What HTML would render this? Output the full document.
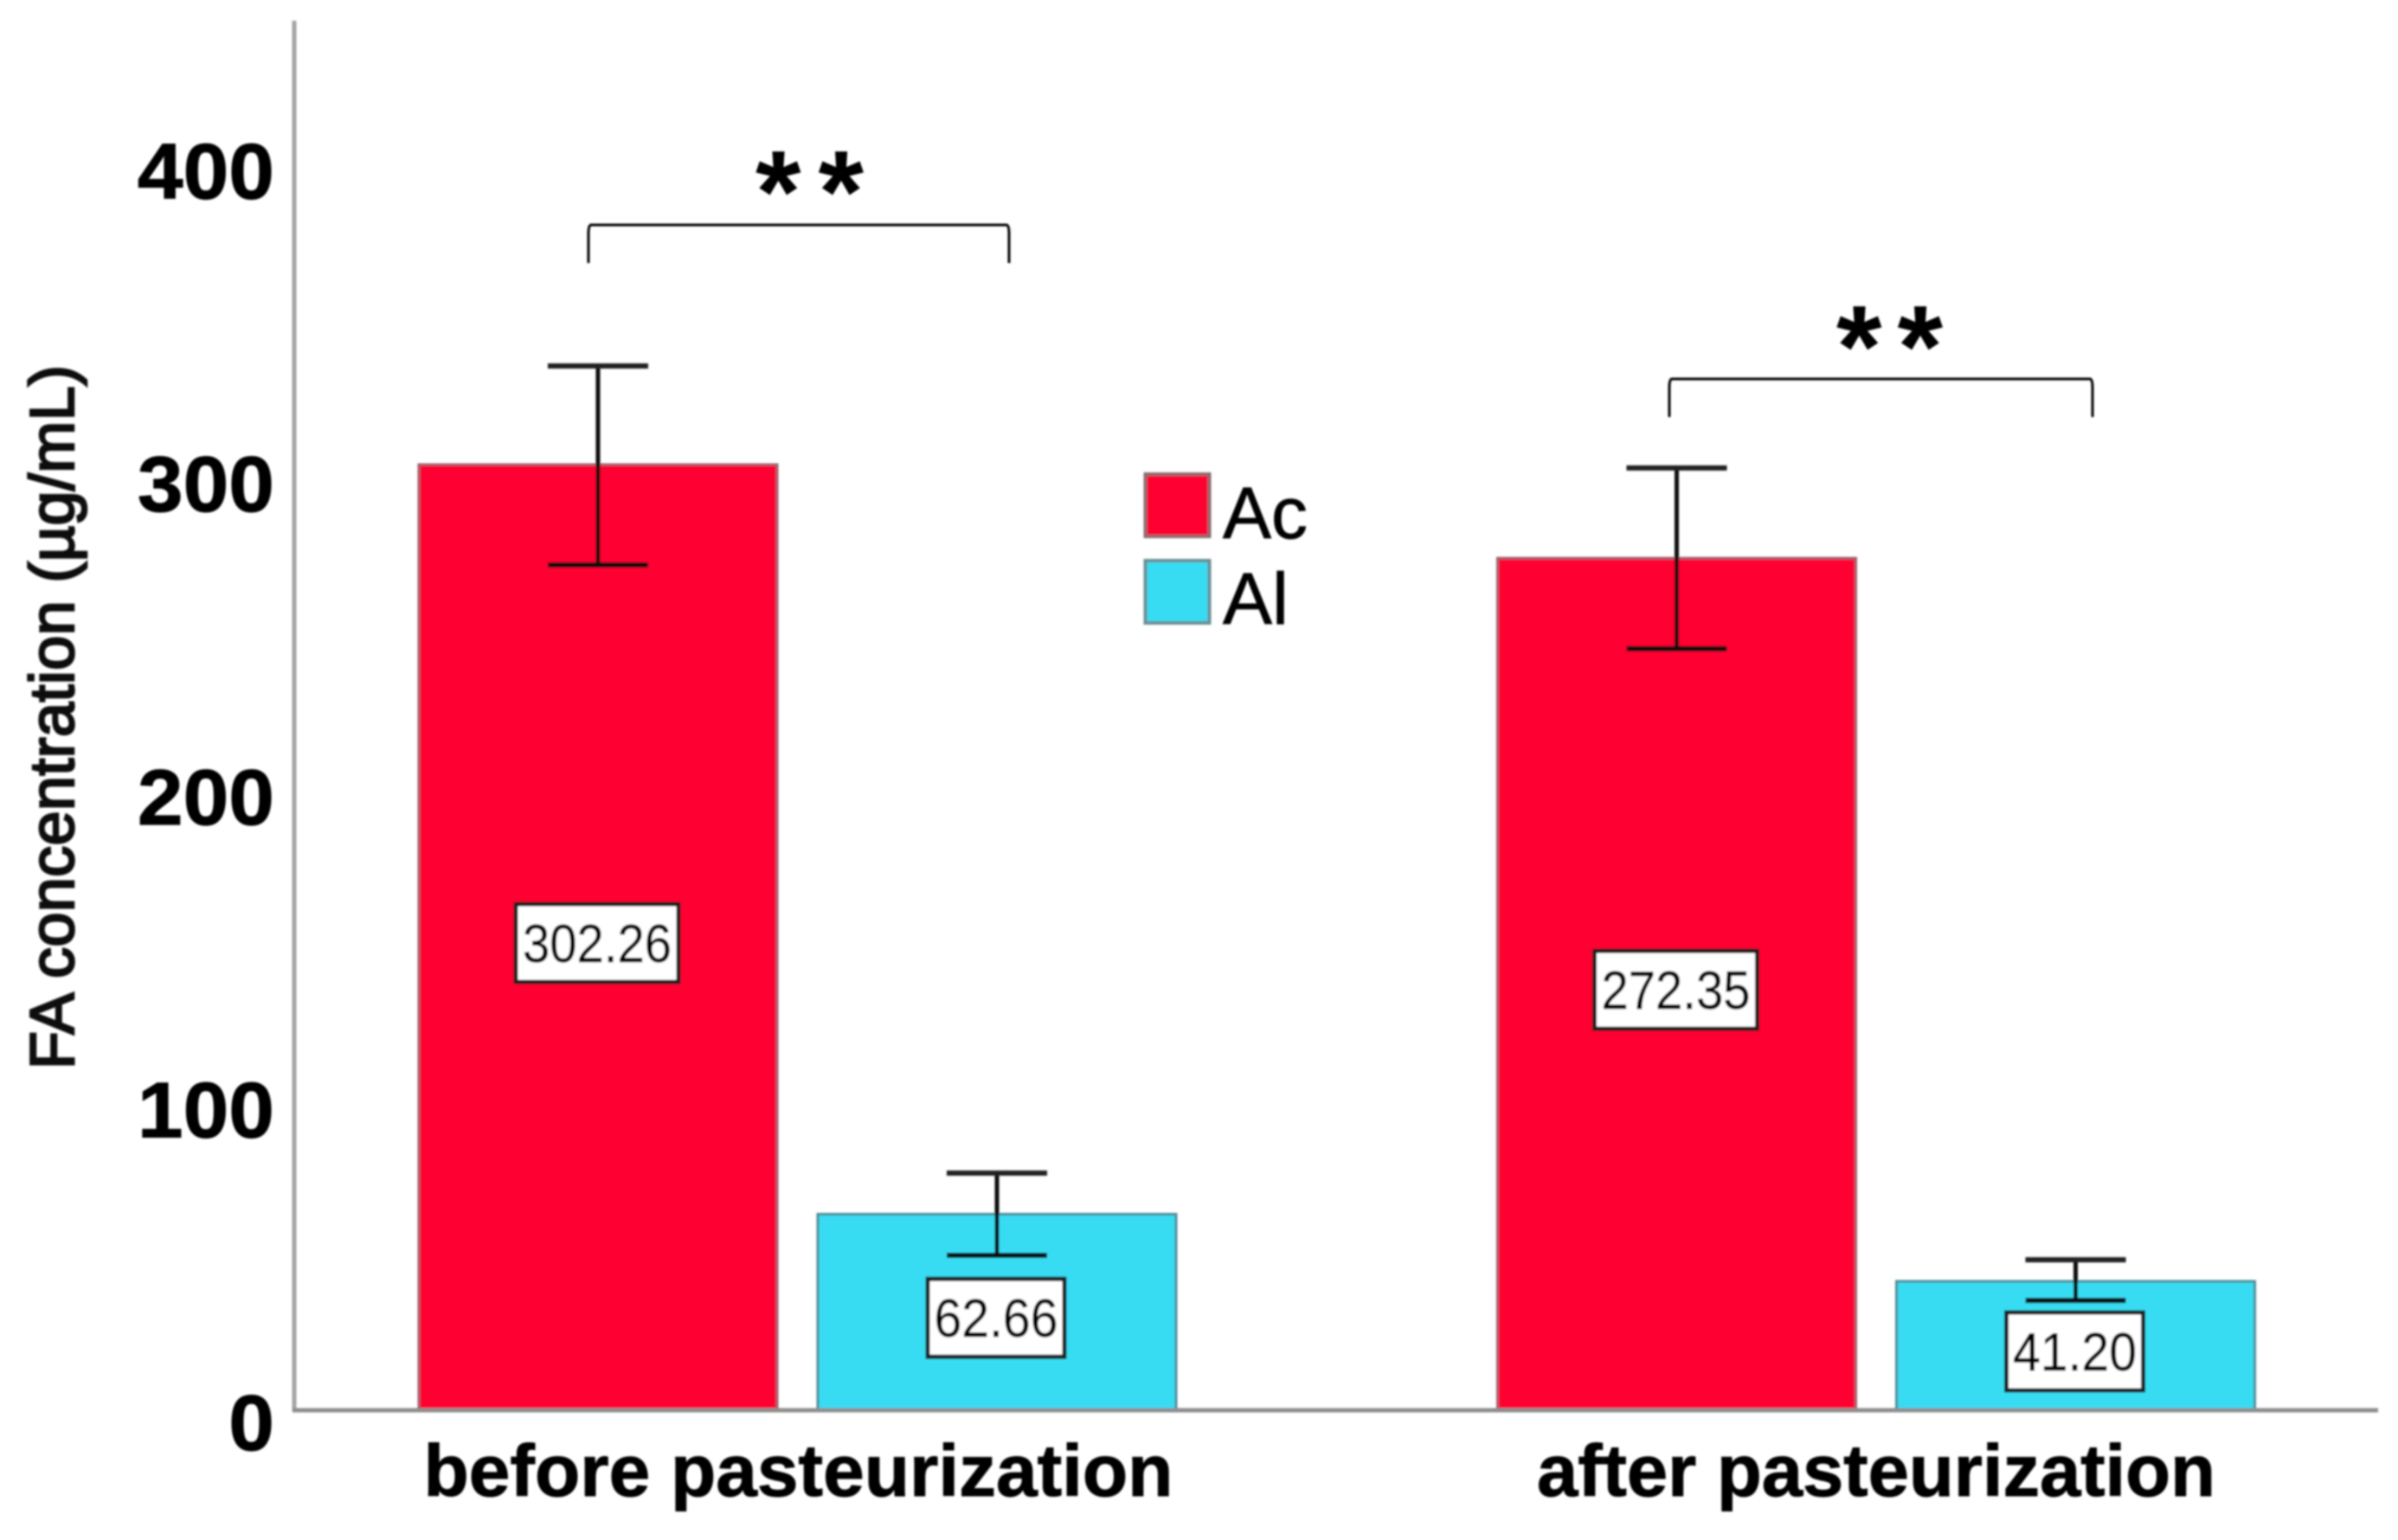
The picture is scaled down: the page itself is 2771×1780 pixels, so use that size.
<!DOCTYPE html>
<html lang="en">
<head>
<meta charset="utf-8">
<title>FA concentration before and after pasteurization</title>
<style>
html,body{margin:0;padding:0;background:#fff;}
svg{display:block;}
text{font-family:"Liberation Sans",sans-serif;}
</style>
</head>
<body>
<svg id="chart" xmlns="http://www.w3.org/2000/svg" width="2771" height="1780" viewBox="0 0 2771 1780">
  <defs>
    <filter id="soft" x="-5%" y="-5%" width="110%" height="110%"><feGaussianBlur stdDeviation="1"/></filter>
  </defs>
  <rect width="2771" height="1780" fill="#ffffff"/>
  <g id="plot" filter="url(#soft)">
    <g id="bars"></g>
    <g id="errors"></g>
    <g id="value-labels"></g>
    <line x1="340" y1="24" x2="340" y2="1631" stroke="#a3a3a3" stroke-width="5"/>
    <line x1="338" y1="1630" x2="2748" y2="1630" stroke="#8f8f8f" stroke-width="5"/>
    <g id="y-ticks"></g>
    <g id="x-labels"></g>
    <text transform="translate(85,1236) rotate(-90)" font-size="72" fill="#111" stroke="#111" stroke-width="2.6" textLength="814" lengthAdjust="spacing">FA concentration (µg/mL)</text>

    <g>
      <rect x="1323.5" y="548" width="74" height="72" fill="#ff0030" stroke="#8d6a70" stroke-width="4"/>
      <text x="1413" y="622" font-size="84" fill="#000" stroke="#000" stroke-width="0.8" textLength="98" lengthAdjust="spacingAndGlyphs">Ac</text>
      <rect x="1323.5" y="648" width="74" height="72" fill="#38dcf2" stroke="#6b8f96" stroke-width="4"/>
      <text x="1413" y="721" font-size="84" fill="#000" stroke="#000" stroke-width="0.8" textLength="76" lengthAdjust="spacingAndGlyphs">Al</text>
    </g>

    <g>
      <path d="M680 304 V270 Q680 260 683 260 H1163 Q1166 260 1166 270 V304" fill="none" stroke="#000" stroke-width="3"/>
      <text x="873" y="268" font-size="135" font-weight="700" letter-spacing="20" fill="#000">**</text>
    </g>
    <g>
      <path d="M1929 482 V448 Q1929 438 1932 438 H2415 Q2418 438 2418 448 V482" fill="none" stroke="#000" stroke-width="3"/>
      <text x="2122" y="447" font-size="135" font-weight="700" letter-spacing="18" fill="#000">**</text>
    </g>
  </g>
</svg>
<script>
const categories = ["before pasteurization", "after pasteurization"];
const seriesNames = ["Ac", "Al"];
const acMeans = [302.26, 272.35];
const alMeans = [62.66, 41.20];
const acUpper = [333.8, 301.2];
const acLower = [270.2, 243.4];
const alUpper = [75.8, 48.1];
const alLower = [49.5, 35.1];
const acLabels = ["302.26", "272.35"];
const alLabels = ["62.66", "41.20"];
const yTickValues = [0, 100, 200, 300, 400];

const SVGNS = "http://www.w3.org/2000/svg";
const seriesFill = ["#ff0030", "#38dcf2"];
const seriesStroke = ["#a0606e", "#4f8d98"];

function yScale(v) { return 1630 - 3.616 * v; }
function groupCenter(i) { return 921.5 + i * 1246.5; }
function barCenter(i, s) { return groupCenter(i) + (s === 0 ? -230.5 : 230.5); }

function make(tag, attrs, parent) {
  const node = document.createElementNS(SVGNS, tag);
  for (const k in attrs) node.setAttribute(k, attrs[k]);
  parent.appendChild(node);
  return node;
}

const barsG = document.getElementById("bars");
const errorsG = document.getElementById("errors");
const labelsG = document.getElementById("value-labels");
const ticksG = document.getElementById("y-ticks");
const xLabelsG = document.getElementById("x-labels");

const BAR_W = 414;
const CAP_W = 116;
const means = [acMeans, alMeans];
const uppers = [acUpper, alUpper];
const lowers = [acLower, alLower];
const labels = [acLabels, alLabels];

means.forEach(function (series, s) {
  series.forEach(function (value, i) {
    const cx = barCenter(i, s);
    const key = seriesNames[s].toLowerCase() + "-" + (i === 0 ? "before" : "after");

    const bar = make("rect", {
      x: cx - BAR_W / 2, y: yScale(value), width: BAR_W, height: yScale(0) - yScale(value),
      fill: seriesFill[s], stroke: seriesStroke[s], "stroke-width": 3
    }, barsG);
    
    

    const hi = yScale(uppers[s][i]);
    const lo = yScale(lowers[s][i]);
    const stem = make("line", { x1: cx, x2: cx, y1: hi, y2: lo, stroke: "#111", "stroke-width": 5 }, errorsG);
    
    
    const capTop = make("line", { x1: cx - CAP_W / 2, x2: cx + CAP_W / 2, y1: hi, y2: hi, stroke: "#222", "stroke-width": 6 }, errorsG);
    
    
    const capBottom = make("line", { x1: cx - CAP_W / 2, x2: cx + CAP_W / 2, y1: lo, y2: lo, stroke: "#111", "stroke-width": 6 }, errorsG);
    
    

    const text = labels[s][i];
    const boxW = text.length === 6 ? 188 : 158;
    const textW = text.length === 6 ? 172 : 143;
    const lx = cx - 1;
    const ly = (yScale(value) + yScale(0)) / 2 + 6.5;
    const box = make("rect", {
      x: lx - boxW / 2, y: ly - 45, width: boxW, height: 90,
      fill: "#ffffff", stroke: "#1a1a1a", "stroke-width": 5
    }, labelsG);
    
    
    const label = make("text", {
      x: lx - textW / 2, y: ly + 22, "font-size": 62, fill: "#000",
      stroke: "#000", "stroke-width": 0.5,
      textLength: textW, lengthAdjust: "spacingAndGlyphs"
    }, labelsG);
    
    
    label.textContent = text;
  });
});

yTickValues.forEach(function (tick) {
  const str = String(tick);
  const w = str.length * 52.7;
  const t = make("text", {
    x: 317 - w, y: yScale(tick) + 46, "font-size": 91, "font-weight": 700, fill: "#000",
    stroke: "#000", "stroke-width": 1,
    textLength: w, lengthAdjust: "spacingAndGlyphs"
  }, ticksG);
  
  
  t.textContent = str;
});

const xLabelWidths = [866, 784];
const xLabelOffsets = [1, 0];
categories.forEach(function (name, i) {
  const w = xLabelWidths[i];
  const t = make("text", {
    x: groupCenter(i) + xLabelOffsets[i] - w / 2, y: 1729, "font-size": 84, "font-weight": 700, fill: "#000",
    stroke: "#000", "stroke-width": 1,
    textLength: w, lengthAdjust: "spacingAndGlyphs"
  }, xLabelsG);
  
  
  t.textContent = name;
});
</script>
</body>
</html>
